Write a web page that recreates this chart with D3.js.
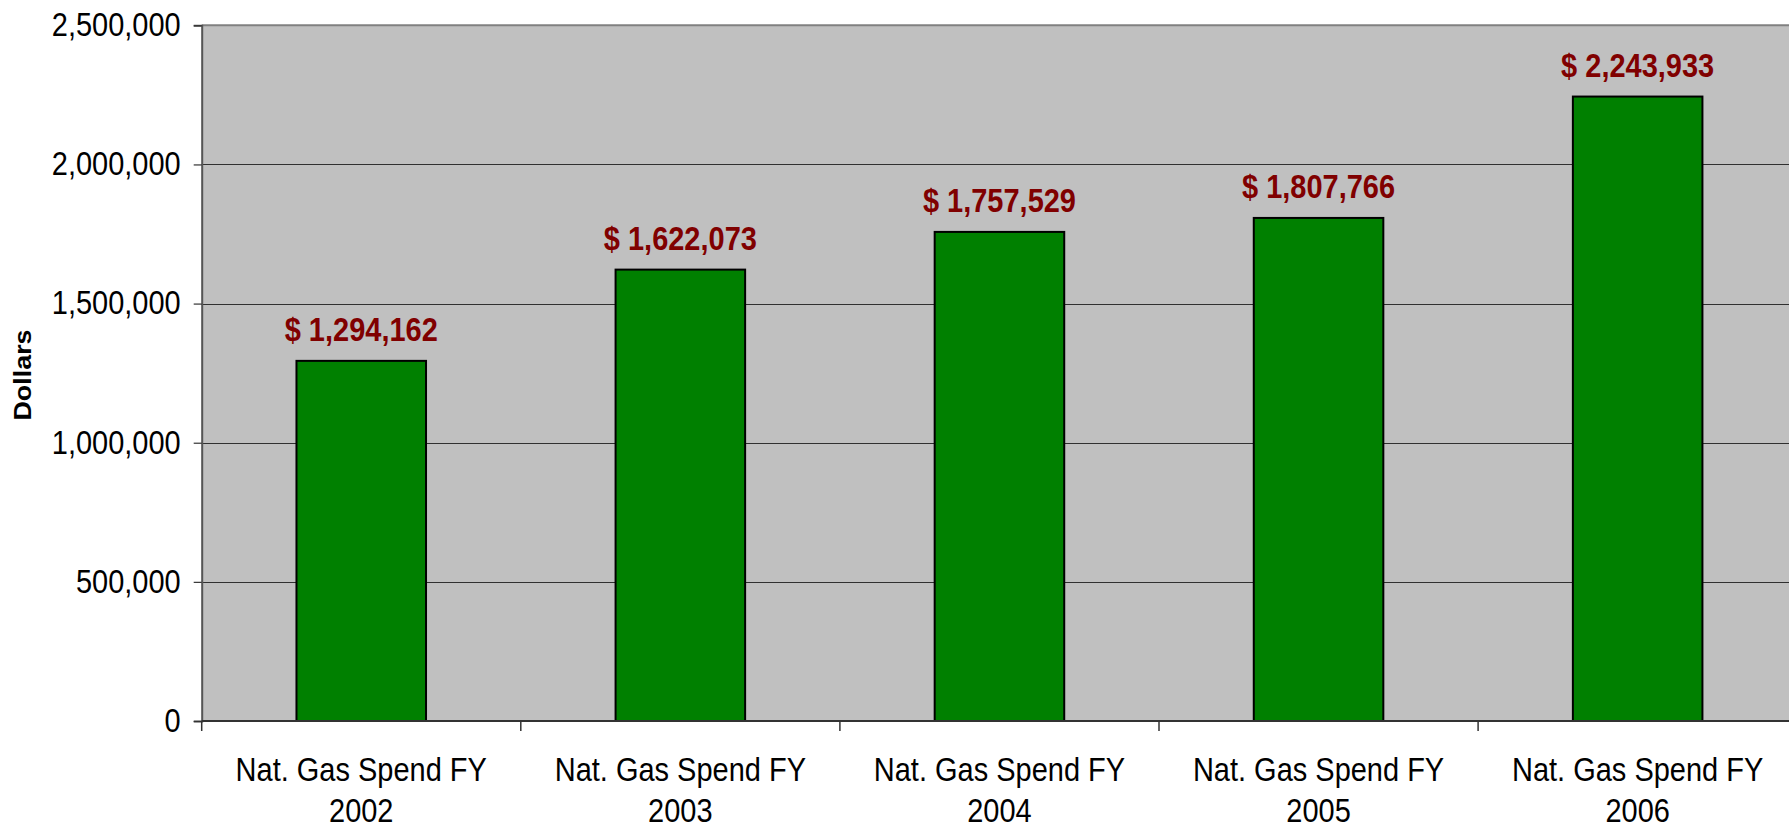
<!DOCTYPE html>
<html>
<head>
<meta charset="utf-8">
<script src="https://cdn.jsdelivr.net/npm/d3@7"></script>
<style>
  html, body { margin: 0; padding: 0; background: #fff; overflow: hidden; }
  svg { display: block; font-family: "Liberation Sans", Arial, sans-serif; }
</style>
</head>
<body>
<svg id="chart" width="1789" height="829"></svg>
<script>
const categories = ["Nat. Gas Spend FY 2002", "Nat. Gas Spend FY 2003", "Nat. Gas Spend FY 2004", "Nat. Gas Spend FY 2005", "Nat. Gas Spend FY 2006"];
const categoryLines = [["Nat. Gas Spend FY", "2002"], ["Nat. Gas Spend FY", "2003"], ["Nat. Gas Spend FY", "2004"], ["Nat. Gas Spend FY", "2005"], ["Nat. Gas Spend FY", "2006"]];
const values = [1294162, 1622073, 1757529, 1807766, 2243933];
const yTicks = [0, 500000, 1000000, 1500000, 2000000, 2500000];
const yTitle = "Dollars";

(function () {
const W = 1789, H = 829;
const pLeft = 201.7, pTop = 25.3, pBottom = 721, pRight = pLeft + 5 * 319.1;
const SY = 1.12;

const svg = d3.select("#chart");

const x = d3.scaleBand().domain(categories).range([pLeft, pRight]).paddingInner(0.594).paddingOuter(0.297);
const y = d3.scaleLinear().domain([0, 2500000]).range([pBottom, pTop]);

// plot background
svg.append("rect").attr("x", pLeft).attr("y", pTop).attr("width", W - pLeft).attr("height", pBottom - pTop).attr("fill", "#c0c0c0");

// gridlines
svg.append("g").selectAll("line").data(yTicks.filter(d => d > 0 && d < 2500000)).join("line")
  .attr("x1", pLeft).attr("x2", W).attr("y1", d => Math.round(y(d)) + 0.5).attr("y2", d => Math.round(y(d)) + 0.5)
  .attr("stroke", "#303030").attr("stroke-width", 1.2);

// top border
svg.append("line").attr("x1", pLeft).attr("x2", W).attr("y1", y(2500000)).attr("y2", y(2500000))
  .attr("stroke", "#808080").attr("stroke-width", 2);

// bars
svg.append("g").selectAll("rect").data(values).join("rect")
  .attr("x", (d, i) => x(categories[i]))
  .attr("width", x.bandwidth())
  .attr("y", d => y(d))
  .attr("height", d => y(0) - y(d))
  .attr("fill", "#008000").attr("stroke", "#000").attr("stroke-width", 2);

// y axis
const yAxis = svg.append("g").attr("transform", `translate(${pLeft},0)`)
  .call(d3.axisLeft(y).tickValues(yTicks).tickFormat(d3.format(",")).tickSize(8).tickPadding(13));
yAxis.select(".domain").attr("stroke", "#555").attr("stroke-width", 2);
yAxis.selectAll(".tick line").attr("stroke", "#333").attr("stroke-width", 1.2);
yAxis.selectAll(".tick text").attr("font-size", 29).attr("fill", "#000")
  .attr("font-family", "'Liberation Sans', Arial, sans-serif")
  .attr("transform", `scale(1,${SY})`);

// x axis
const xAxis = svg.append("g").attr("transform", `translate(0,${pBottom})`);
xAxis.append("line").attr("x1", pLeft).attr("x2", W).attr("y1", 0).attr("y2", 0).attr("stroke", "#333").attr("stroke-width", 2);
const boundaries = d3.range(categories.length + 1).map(i => x(categories[0]) - x.step() * x.paddingOuter() + i * x.step());
xAxis.selectAll("line.tk").data(boundaries).join("line").attr("class", "tk")
  .attr("x1", d => d).attr("x2", d => d).attr("y1", 0).attr("y2", 10)
  .attr("stroke", "#333").attr("stroke-width", 1.5);

// x labels
const xl = svg.append("g").selectAll("text").data(categoryLines).join("text")
  .attr("text-anchor", "middle").attr("font-size", 29).attr("fill", "#000")
  .attr("transform", (d, i) => `translate(${x(categories[i]) + x.bandwidth() / 2},0) scale(1,${SY})`);
xl.selectAll("tspan").data(d => d).join("tspan")
  .attr("x", 0).attr("y", (d, j) => (j === 0 ? 781 : 822) / SY).text(d => d);

// data labels
svg.append("g").selectAll("text").data(values).join("text")
  .attr("text-anchor", "middle").attr("font-size", 29).attr("font-weight", "bold").attr("fill", "#800000")
  .attr("transform", (d, i) => `translate(${x(categories[i]) + x.bandwidth() / 2},${y(d) - 20}) scale(1,${SY})`)
  .text(d => "$ " + d3.format(",")(d));

// y title
svg.append("text").attr("text-anchor", "middle").attr("font-size", 24).attr("font-weight", "bold")
  .attr("transform", `translate(31,375) rotate(-90) scale(1.12,1)`).text(yTitle);
})();
</script>
</body>
</html>
